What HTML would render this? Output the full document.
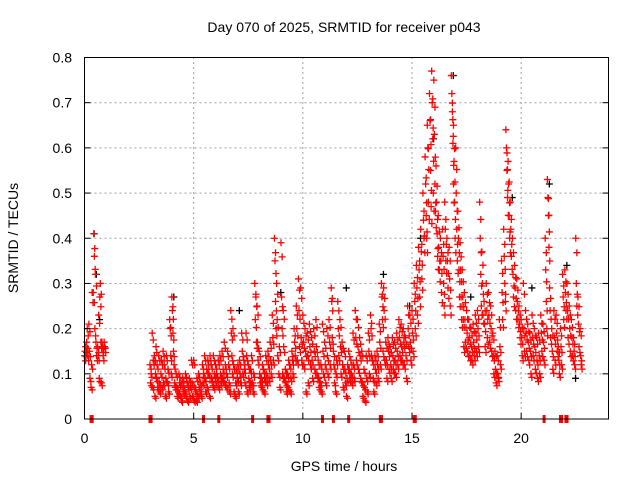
<!DOCTYPE html>
<html><head><meta charset="utf-8"><style>
body{margin:0;background:#fff}
svg{display:block;font-family:"Liberation Sans",sans-serif}
</style></head><body>
<svg id="chart" width="640" height="480" viewBox="0 0 640 480">
<rect width="640" height="480" fill="#fff"/>
<g id="grid"></g>
<g id="blk"></g>
<g id="red"></g>
<rect x="84.5" y="57.5" width="524" height="361.5" fill="none" stroke="#000" stroke-width="1"/>
<g id="ticks"></g>
<text x="344" y="32" font-size="14" text-anchor="middle">Day 070 of 2025, SRMTID for receiver p043</text>
<text transform="translate(18,238) rotate(-90)" font-size="14" text-anchor="middle">SRMTID / TECUs</text>
<text x="344" y="471" font-size="14" text-anchor="middle">GPS time / hours</text>
</svg>
<script>
const xTicks=[0,5,10,15,20];
const yTicks=[0,0.1,0.2,0.3,0.4,0.5,0.6,0.7,0.8];
const yTickLabels=["0","0.1","0.2","0.3","0.4","0.5","0.6","0.7","0.8"];
const hours=[0.0,0.1,0.2,0.3,0.4,0.5,0.6,0.7,0.8,0.9,
3.0,3.1,3.2,3.3,3.4,3.5,3.6,3.7,3.8,3.9,4.0,4.1,4.2,4.3,4.4,4.5,4.6,4.7,4.8,4.9,
5.0,5.1,5.2,5.3,5.4,5.5,5.6,5.7,5.8,5.9,6.0,6.1,6.2,6.3,6.4,6.5,6.6,6.7,6.8,6.9,
7.0,7.1,7.2,7.3,7.4,7.5,7.6,7.7,7.8,7.9,8.0,8.1,8.2,8.3,8.4,8.5,8.6,8.7,8.8,8.9,
9.0,9.1,9.2,9.3,9.4,9.5,9.6,9.7,9.8,9.9,10.0,10.1,10.2,10.3,10.4,10.5,10.6,10.7,10.8,10.9,
11.0,11.1,11.2,11.3,11.4,11.5,11.6,11.7,11.8,11.9,12.0,12.1,12.2,12.3,12.4,12.5,12.6,12.7,12.8,12.9,
13.0,13.1,13.2,13.3,13.4,13.5,13.6,13.7,13.8,13.9,14.0,14.1,14.2,14.3,14.4,14.5,14.6,14.7,14.8,14.9,
15.0,15.1,15.2,15.3,15.4,15.5,15.6,15.7,15.8,15.9,16.0,16.1,16.2,16.3,16.4,16.5,16.6,16.7,16.8,16.9,
17.0,17.1,17.2,17.3,17.4,17.5,17.6,17.7,17.8,17.9,18.0,18.1,18.2,18.3,18.4,18.5,18.6,18.7,18.8,18.9,
19.0,19.1,19.2,19.3,19.4,19.5,19.6,19.7,19.8,19.9,20.0,20.1,20.2,20.3,20.4,20.5,20.6,20.7,20.8,20.9,
21.0,21.1,21.2,21.3,21.4,21.5,21.6,21.7,21.8,21.9,22.0,22.1,22.2,22.3,22.4,22.5,22.6,22.7];
const srmtid=[[0.14,0.15,0.16],[0.17,0.20,0.14],[0.21,0.15,0.09],[0.07,0.12,0.28],[0.28,0.41,0.36,0.2],[0.32,0.17,0.14],[0.16,0.14,0.23,0.09],[0.27,0.30,0.17,0.08],[0.17,0.16,0.14],[0.17,0.16],
[0.12,0.08,0.10],[0.19,0.07,0.13],[0.14,0.05,0.10,0.16],[0.09,0.12,0.07],[0.14,0.08,0.06],[0.10,0.13,0.07],[0.15,0.08,0.12],[0.05,0.09,0.14],[0.08,0.11,0.06],[0.22,0.20,0.14,0.10],[0.27,0.24,0.19,0.15],[0.12,0.08,0.07],[0.10,0.07,0.05],[0.06,0.10,0.08],[0.05,0.08,0.04],[0.09,0.06,0.07],[0.06,0.10,0.05],[0.08,0.04,0.07],[0.09,0.05,0.07],[0.13,0.08,0.05],
[0.13,0.04,0.07],[0.06,0.04,0.09],[0.05,0.10,0.07],[0.06,0.08,0.05],[0.12,0.08,0.10],[0.14,0.09,0.06],[0.11,0.07,0.13],[0.10,0.05,0.14],[0.12,0.09,0.08],[0.14,0.07,0.10],[0.12,0.08,0.10],[0.09,0.13,0.07],[0.14,0.10,0.08],[0.15,0.09,0.11],[0.17,0.08,0.12],[0.10,0.07,0.15],[0.12,0.08,0.06],[0.24,0.19,0.14,0.10],[0.20,0.12,0.06],[0.05,0.08,0.11],
[0.09,0.12,0.06],[0.13,0.10,0.08],[0.19,0.15,0.10],[0.13,0.11,0.08],[0.19,0.14,0.06],[0.12,0.09,0.07],[0.11,0.08,0.14],[0.08,0.06,0.10],[0.30,0.22,0.27,0.17],[0.25,0.17,0.13],[0.15,0.10,0.08],[0.09,0.07,0.12],[0.11,0.06,0.09],[0.14,0.10,0.08],[0.15,0.12,0.09],[0.17,0.13,0.10],[0.23,0.18,0.13],[0.40,0.35,0.26,0.20],[0.30,0.22,0.14],[0.10,0.16,0.07],
[0.39,0.27,0.20,0.10],[0.24,0.16,0.09],[0.11,0.08,0.06],[0.10,0.07,0.13],[0.12,0.06,0.09],[0.15,0.13,0.10],[0.20,0.17,0.14],[0.25,0.20,0.13],[0.31,0.24,0.16],[0.29,0.18,0.13],[0.23,0.17,0.12],[0.20,0.15,0.06],[0.19,0.14,0.08],[0.21,0.16,0.12],[0.18,0.13,0.09],[0.20,0.15,0.11],[0.22,0.16,0.10],[0.13,0.09,0.07],[0.08,0.12,0.06],[0.21,0.15,0.10],
[0.17,0.12,0.08],[0.20,0.14,0.10],[0.22,0.17,0.12],[0.29,0.26,0.18],[0.15,0.12,0.08],[0.06,0.10,0.13],[0.26,0.20,0.14],[0.22,0.16,0.10],[0.17,0.12,0.07],[0.15,0.11,0.08],[0.05,0.09,0.12],[0.15,0.11,0.09],[0.13,0.10,0.08],[0.19,0.12,0.09],[0.24,0.18,0.13],[0.22,0.16,0.11],[0.18,0.14,0.09],[0.15,0.08,0.05],[0.11,0.07,0.04],[0.14,0.09,0.06],
[0.19,0.15,0.10],[0.23,0.20,0.14],[0.13,0.09,0.06],[0.14,0.11,0.08],[0.15,0.12,0.09],[0.21,0.17,0.12],[0.30,0.27,0.22,0.15],[0.29,0.24,0.13],[0.17,0.13,0.09],[0.18,0.15,0.11],[0.16,0.12,0.09],[0.18,0.14,0.11],[0.17,0.13,0.10],[0.19,0.15,0.12],[0.22,0.18,0.14],[0.21,0.16,0.13],[0.20,0.17,0.12],[0.18,0.14,0.09],[0.25,0.20,0.16],[0.23,0.17,0.13],
[0.24,0.19,0.15],[0.30,0.26,0.20],[0.34,0.29,0.23],[0.38,0.33,0.27],[0.42,0.37,0.31],[0.50,0.44,0.40],[0.58,0.52,0.45,0.40],[0.65,0.60,0.48],[0.72,0.66,0.55,0.47],[0.77,0.70,0.62,0.50],[0.75,0.63,0.52,0.46],[0.56,0.48,0.41,0.36],[0.45,0.38,0.33],[0.40,0.35,0.28],[0.42,0.36,0.30,0.25],[0.48,0.42,0.35],[0.40,0.35,0.29],[0.38,0.31,0.25],[0.76,0.72,0.68,0.61,0.52],[0.65,0.57,0.48,0.40],
[0.60,0.50,0.42,0.35],[0.46,0.40,0.33,0.27],[0.39,0.33,0.27,0.22],[0.33,0.27,0.22,0.16],[0.28,0.22,0.17],[0.24,0.19,0.15],[0.22,0.18,0.14],[0.20,0.16,0.13],[0.21,0.17,0.14],[0.23,0.19,0.15],[0.24,0.20,0.16],[0.48,0.40,0.32,0.25],[0.37,0.30,0.23],[0.26,0.21,0.16],[0.30,0.24,0.18],[0.28,0.23,0.17],[0.25,0.20,0.15],[0.19,0.14,0.10],[0.15,0.11,0.08],[0.14,0.10,0.09],
[0.22,0.16,0.12],[0.35,0.28,0.22],[0.42,0.36,0.30,0.26],[0.64,0.60,0.55,0.49],[0.57,0.52,0.45,0.40],[0.48,0.42,0.36],[0.40,0.32,0.27],[0.34,0.29,0.24],[0.31,0.26,0.22],[0.25,0.21,0.18],[0.22,0.18,0.14],[0.30,0.20,0.15],[0.24,0.19,0.15],[0.21,0.17,0.13],[0.19,0.15,0.10],[0.23,0.18,0.14],[0.20,0.16,0.11],[0.18,0.13,0.09],[0.19,0.14,0.10],[0.23,0.19,0.15],
[0.21,0.17,0.13],[0.40,0.33,0.26,0.20],[0.53,0.49,0.45,0.38],[0.29,0.24,0.18],[0.20,0.15,0.11],[0.24,0.18,0.13],[0.23,0.19,0.15],[0.16,0.13,0.10],[0.20,0.16,0.12],[0.32,0.27,0.22],[0.33,0.28,0.24],[0.30,0.24,0.18],[0.25,0.20,0.15],[0.22,0.18,0.14],[0.18,0.15,0.12],[0.40,0.30,0.25],[0.27,0.21,0.16],[0.20,0.14,0.12]];
const blackHours=[0.35,0.45,0.6,4.0,7.0,8.9,11.9,13.6,14.8,15.3,15.9,16.8,17.6,19.5,20.4,21.2,22.0,22.4];
const blackVals=[0.41,0.32,0.22,0.27,0.24,0.28,0.29,0.32,0.25,0.40,0.62,0.76,0.27,0.49,0.29,0.52,0.34,0.09];
const zeroHours=[0.3,0.35,3.0,3.05,5.45,6.15,7.7,8.4,8.45,10.9,11.4,12.1,13.55,13.6,15.1,15.15,21.05,21.8,21.85,22.05,22.1];
const X0=84.5,X1=608.5,Y0=419,Y1=57.5;
const xs=h=>X0+h/24*(X1-X0);
const ys=v=>Y0-v/0.8*(Y0-Y1);
const NS="http://www.w3.org/2000/svg";
function mk(tag,attrs,parent){const e=document.createElementNS(NS,tag);for(const k in attrs)e.setAttribute(k,attrs[k]);parent.appendChild(e);return e;}
const grid=document.getElementById('grid'),ticks=document.getElementById('ticks');
xTicks.forEach((t,i)=>{
  const x=xs(t);
  if(i>0){const g=mk('line',{x1:x,x2:x,y1:Y0,y2:Y1,stroke:'#a0a0a0','stroke-dasharray':'2,3'},grid);
  
  }
  mk('line',{x1:x,x2:x,y1:Y0,y2:Y0-6,stroke:'#000'},ticks);
  const l=mk('text',{x:x,y:443,'font-size':14,'text-anchor':'middle'},ticks);l.textContent=t;
  
  
});
yTicks.forEach((t,i)=>{
  const y=ys(t);
  if(i>0&&i<yTicks.length-1){const g=mk('line',{x1:X0,x2:X1,y1:y,y2:y,stroke:'#a0a0a0','stroke-dasharray':'2,3'},grid);
  
  }
  mk('line',{x1:X0,x2:X0+6,y1:y,y2:y,stroke:'#000'},ticks);
  mk('line',{x1:X1,x2:X1-6,y1:y,y2:y,stroke:'#000'},ticks);
  const l=mk('text',{x:72,y:y+5,'font-size':14,'text-anchor':'end'},ticks);l.textContent=yTickLabels[i];
  
  
});
function plus(x,y,col,parent,name){
  const p=mk('path',{d:`M${x-3.5},${y}h7M${x},${y-3.5}v7`,stroke:col,'stroke-width':1.3,fill:'none'},parent);
  
  
}
const blk=document.getElementById('blk'),red=document.getElementById('red');
blackHours.forEach((h,i)=>plus(xs(h)+2,ys(blackVals[i]),'#000',blk,'black-point'));
hours.forEach((h,i)=>{
  srmtid[i].forEach((v,j)=>{
    plus(xs(h+j*0.025),ys(v),'#ff0000',red,'red-point');
    plus(xs(h+0.05+j*0.02),ys(v*0.92),'#ff0000',red,'red-point');
  });
});
zeroHours.forEach(h=>{
  const r=mk('rect',{x:xs(h)-1.5,y:Y0-4,width:3,height:8,fill:'#ff0000'},red);
  
  
});
</script>
</body></html>
